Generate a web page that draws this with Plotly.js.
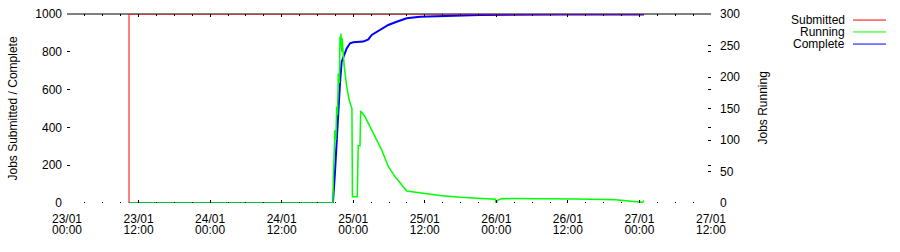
<!DOCTYPE html>
<html><head><meta charset="utf-8">
<script src="https://cdn.plot.ly/plotly-3.0.1.min.js"></script>
<style>html,body{margin:0;padding:0;background:#fff}#c{width:900px;height:252px}</style>
</head><body><div id="c"></div>
<script>
// ---- data ----
const submittedTime = ['2010-01-23 10:24','2010-01-23 10:24','2010-01-27 00:46'];
const submittedJobs = [0, 1000, 1000];

const completeTime = ['2010-01-23 10:24','2010-01-24 20:36','2010-01-24 20:56','2010-01-24 21:14','2010-01-24 21:30','2010-01-24 21:47',
  '2010-01-24 22:04','2010-01-24 22:20','2010-01-24 22:54','2010-01-24 23:28','2010-01-25 00:01','2010-01-25 01:41',
  '2010-01-25 02:32','2010-01-25 03:06','2010-01-25 04:29','2010-01-25 05:53','2010-01-25 07:17','2010-01-25 08:58',
  '2010-01-25 11:12','2010-01-25 15:06','2010-01-25 21:16','2010-01-26 10:41','2010-01-27 00:46'];
const completeJobs = [0,0,159,333,492,635,748,774,818,845,850,854,866,889,915,942,959,977,986,989,995,997,998];

const runningTime = ['2010-01-23 10:24','2010-01-24 20:36','2010-01-24 20:40','2010-01-24 20:56','2010-01-24 21:05','2010-01-24 21:14',
  '2010-01-24 21:22','2010-01-24 21:30','2010-01-24 21:40','2010-01-24 21:47','2010-01-24 21:52','2010-01-24 21:57',
  '2010-01-24 22:04','2010-01-24 22:08','2010-01-24 22:14','2010-01-24 22:30','2010-01-24 22:54','2010-01-24 23:20',
  '2010-01-24 23:47','2010-01-24 23:52','2010-01-25 00:41','2010-01-25 00:45','2010-01-25 00:50','2010-01-25 01:08',
  '2010-01-25 01:12','2010-01-25 01:15','2010-01-25 01:59','2010-01-25 02:48','2010-01-25 03:39','2010-01-25 04:47',
  '2010-01-25 05:53','2010-01-25 07:00','2010-01-25 08:58','2010-01-25 11:12','2010-01-25 13:24','2010-01-25 14:33',
  '2010-01-25 17:54','2010-01-25 21:16','2010-01-25 22:26','2010-01-25 23:50','2010-01-25 23:56','2010-01-26 00:20',
  '2010-01-26 00:57','2010-01-26 06:00','2010-01-26 09:30','2010-01-26 13:42','2010-01-26 20:00','2010-01-27 00:06',
  '2010-01-27 00:30','2010-01-27 00:46'];
const runningJobs = [0,0,42,116,100,153,140,206,190,264,250,269,240,262,243,216,185,163,
  150,10,10,63,91,91,144,146,137,121,105,84,58,42,19,16,14,12,9,7.5,7,6,0,5,7,7,6,6.5,5,1,1,4];

const xStart = '2010-01-23 00:00';
const xEnd = '2010-01-27 12:00';

// ---- chart ----
const F = 'Liberation Sans, Arial, sans-serif';
const traces = [
  {x: submittedTime, y: submittedJobs, type:'scatter', mode:'lines', name:'Submitted',
   line:{color:'#ff0000', width:1}, cliponaxis:false, xaxis:'x2', yaxis:'y'},
  {x: runningTime, y: runningJobs, type:'scatter', mode:'lines', name:'Running',
   line:{color:'#00ff00', width:1.5}, cliponaxis:false, xaxis:'x', yaxis:'y2'},
  {x: completeTime, y: completeJobs, type:'scatter', mode:'lines', name:'Complete',
   line:{color:'#0000ff', width:2}, cliponaxis:false, xaxis:'x', yaxis:'y'}
];

const tickBase = {
  type:'date', range:[xStart, xEnd], tickmode:'linear', tick0:xStart, dtick:43200000,
  showgrid:false, zeroline:false, showline:false, fixedrange:true
};

const layout = {
  width:900, height:252, margin:{l:67, r:189, t:14, b:49},
  paper_bgcolor:'#fff', plot_bgcolor:'#fff', showlegend:false,
  font:{family:F, size:12, color:'#000'},
  xaxis: Object.assign({}, tickBase, {
    tickformat:'%d/%m', ticks:'inside', ticklen:3, tickcolor:'#000', mirror:'ticks',
    minor:{tickmode:'linear', tick0:xStart, dtick:10800000, ticks:'inside', ticklen:1.5, tickcolor:'#000'},
    tickfont:{family:F, size:12}, ticklabelstandoff:7
  }),
  xaxis2: Object.assign({}, tickBase, {
    overlaying:'x', anchor:'y', side:'bottom', tickformat:'%H:%M', ticks:'',
    tickfont:{family:F, size:12}, ticklabelstandoff:18
  }),
  yaxis: {range:[0,1000], dtick:200, ticks:'inside', ticklen:3, tickcolor:'#000', mirror:'ticks',
    showgrid:false, zeroline:false, showline:false, fixedrange:true, ticklabelstandoff:4,
    tickfont:{family:F, size:12}},
  yaxis2: {range:[0,300], dtick:50, overlaying:'y', side:'right', anchor:'x', ticks:'inside', ticklen:3,
    tickcolor:'#000', showgrid:false, zeroline:false, showline:false, fixedrange:true, ticklabelstandoff:8,
    tickfont:{family:F, size:12}},
  shapes: [
    {type:'line', xref:'paper', yref:'paper', x0:0, x1:1, y0:1, y1:1, line:{color:'#000', width:1}, layer:'below'},
    {type:'line', xref:'paper', yref:'paper', x0:1.2205, x1:1.2717, y0:0.968, y1:0.968, line:{color:'#ff0000', width:1}},
    {type:'line', xref:'paper', yref:'paper', x0:1.2205, x1:1.2717, y0:0.905, y1:0.905, line:{color:'#00ff00', width:1}},
    {type:'line', xref:'paper', yref:'paper', x0:1.2205, x1:1.2717, y0:0.841, y1:0.841, line:{color:'#0000ff', width:1}}
  ],
  annotations: [
    {text:'Jobs Submitted / Complete', xref:'paper', yref:'paper', x:-0.0854, y:0.5, xanchor:'center', yanchor:'middle', textangle:-90, showarrow:false, font:{family:F,size:12}},
    {text:'Jobs Running', xref:'paper', yref:'paper', x:1.0792, y:0.5, xanchor:'center', yanchor:'middle', textangle:-90, showarrow:false, font:{family:F,size:12}},
    {text:'Submitted', xref:'paper', yref:'paper', x:1.2112, y:0.968, xanchor:'right', yanchor:'middle', showarrow:false, font:{family:F,size:12}},
    {text:'Running', xref:'paper', yref:'paper', x:1.2112, y:0.905, xanchor:'right', yanchor:'middle', showarrow:false, font:{family:F,size:12}},
    {text:'Complete', xref:'paper', yref:'paper', x:1.2112, y:0.841, xanchor:'right', yanchor:'middle', showarrow:false, font:{family:F,size:12}}
  ]
};

Plotly.newPlot('c', traces, layout, {staticPlot:true, displayModeBar:false});
</script>
</body></html>
